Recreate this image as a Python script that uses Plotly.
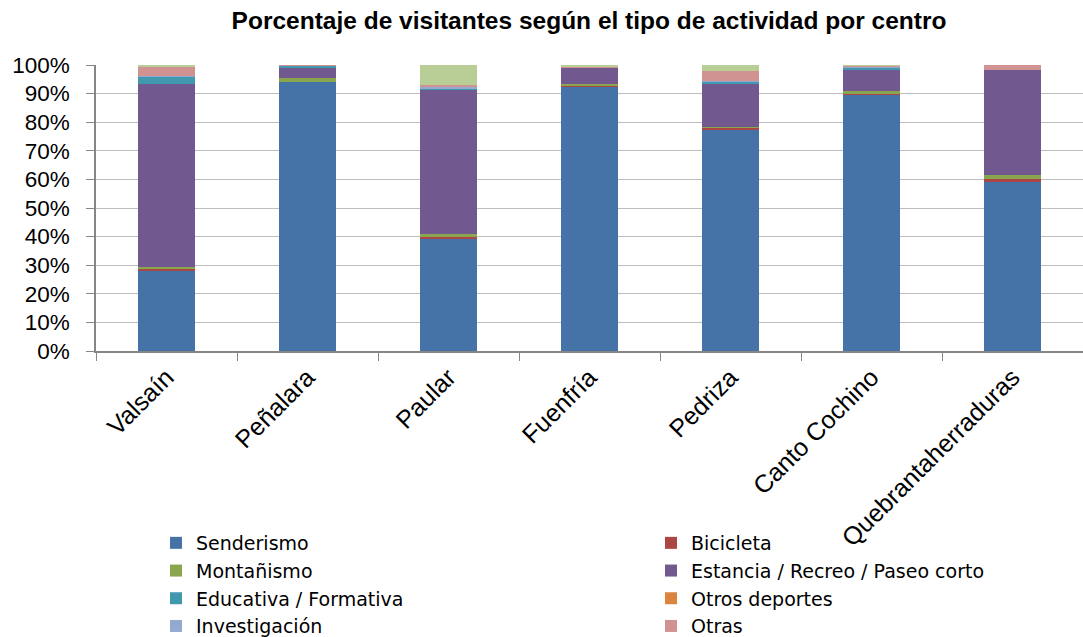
import plotly.graph_objects as go

centros = ["Valsaín", "Peñalara", "Paular", "Fuenfría", "Pedriza", "Canto Cochino", "Quebrantaherraduras"]

senderismo    = [28.2, 94.1, 39.3, 92.3, 77.5, 89.7, 59.2]
bicicleta     = [0.4, 0.0, 0.7, 0.7, 0.5, 0.1, 0.9]
montanismo    = [0.8, 1.2, 1.0, 0.2, 0.3, 1.2, 1.4]
estancia      = [63.8, 3.7, 50.3, 6.0, 15.2, 7.5, 36.8]
educativa     = [2.8, 0.8, 0.5, 0.0, 0.9, 0.6, 0.0]
otros_deporte = [0.0, 0.0, 0.0, 0.0, 0.0, 0.0, 0.0]
investigacion = [0.1, 0.0, 0.4, 0.0, 0.1, 0.3, 0.0]
otras         = [3.2, 0.2, 0.7, 0.4, 3.5, 0.3, 1.7]
ns_nc         = [0.7, 0.0, 7.1, 0.4, 2.0, 0.3, 0.0]

# (name, values, colour, legend column)
series = [
    ("Senderismo", senderismo, "#4572A7", "legend"),
    ("Bicicleta", bicicleta, "#AA4643", "legend2"),
    ("Montañismo", montanismo, "#89A54E", "legend"),
    ("Estancia / Recreo / Paseo corto", estancia, "#71588F", "legend2"),
    ("Educativa / Formativa", educativa, "#4198AF", "legend"),
    ("Otros deportes", otros_deporte, "#DB843D", "legend2"),
    ("Investigación", investigacion, "#93A9CF", "legend"),
    ("Otras", otras, "#D19392", "legend2"),
    ("NS / NC", ns_nc, "#B9CD96", None),
]

FONT = "Liberation Sans"
LEGEND_FONT = "DejaVu Sans"

fig = go.Figure()
for name, vals, color, leg in series:
    fig.add_trace(go.Bar(
        x=centros, y=vals, name=name,
        marker=dict(color=color, line=dict(width=0)),
        showlegend=leg is not None,
        legend=leg if leg else "legend",
    ))

legend_common = dict(
    orientation="v",
    xref="container", yref="container",
    xanchor="left", yanchor="top",
    y=1 - 524 / 637,
    font=dict(size=19, family=LEGEND_FONT, color="black"),
    traceorder="normal",
    itemclick=False,
    bgcolor="rgba(0,0,0,0)",
)

fig.update_layout(
    barmode="stack",
    bargap=0.6,
    width=1083, height=637,
    paper_bgcolor="white", plot_bgcolor="white",
    margin=dict(l=96, r=0, t=65, b=286, autoexpand=False),
    font=dict(family=FONT, color="black"),
    title=dict(
        text="<b>Porcentaje de visitantes según el tipo de actividad por centro</b>",
        x=589 / 1083, xref="container", xanchor="center",
        y=1 - 20 / 637, yref="container", yanchor="middle",
        font=dict(size=24.5, family=FONT, color="black"),
    ),
    legend=dict(legend_common, x=156 / 1083),
    legend2=dict(legend_common, x=651 / 1083),
)

fig.update_yaxes(
    range=[0, 100], dtick=10, ticksuffix="%",
    showgrid=True, gridcolor="#BDBDBD", gridwidth=1,
    showline=True, linecolor="#868686", linewidth=1.5,
    ticks="outside", ticklen=8, tickcolor="#868686",
    ticklabelstandoff=12,
    tickfont=dict(size=22.5, family=FONT, color="black"),
    zeroline=False,
)
fig.update_xaxes(
    showline=True, linecolor="#868686", linewidth=1.5,
    ticks="outside", ticklen=8, tickcolor="#868686",
    tickson="boundaries",
    tickangle=-45,
    tickfont=dict(size=25, family=FONT, color="black"),
)

fig.write_html(
    "out.html",
    config={"displayModeBar": False},
    post_script="document.body.style.margin='0';",
)
